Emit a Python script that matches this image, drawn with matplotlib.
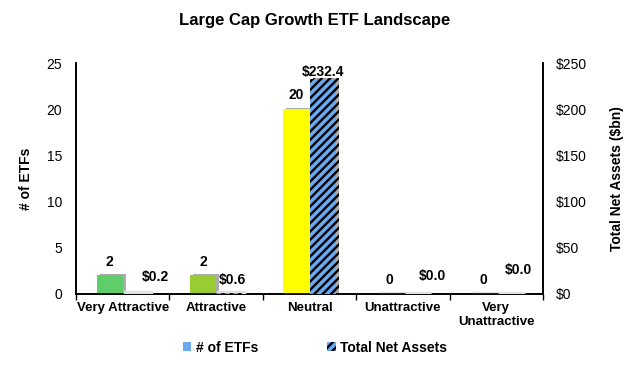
import numpy as np
import matplotlib
matplotlib.use("Agg")
import matplotlib.pyplot as plt
import matplotlib.patheffects as pe
from matplotlib.patches import Patch

plt.rcParams["font.family"] = ["Liberation Sans", "DejaVu Sans"]
plt.rcParams["hatch.linewidth"] = 1.7

categories = ["Very Attractive", "Attractive", "Neutral", "Unattractive", "Very\nUnattractive"]
num_etfs = [2, 2, 20, 0, 0]
total_assets = [0.2, 0.6, 232.4, 0.0, 0.0]
etf_labels = ["2", "2", "20", "0", "0"]
asset_labels = ["$0.2", "$0.6", "$232.4", "$0.0", "$0.0"]

bar_colors = ["#5fcd6a", "#99cc33", "#ffff00", "#ff9900", "#ff3333"]
hatch_face = "#6aa8f0"
# excel-ish nudges for the asset labels (points)
asset_dx = [14, 2, 0, 12, 6.5]
asset_dy = [12, 10, 5, 13, 17]

fig = plt.figure(figsize=(6.3, 3.67), dpi=100)
ax = fig.add_axes([0.1206, 0.199, 0.7414, 0.629])
ax2 = ax.twinx()

x = np.arange(len(categories))
w = 0.28
shadow = [pe.SimplePatchShadow(offset=(2.2, 0.8), shadow_rgbFace="#888888", alpha=0.7), pe.Normal()]
flat = [pe.Stroke(linewidth=2.5, foreground="#e2e2e2", offset=(1.5, 1)), pe.Normal()]

bars1 = ax.bar(x - w / 2, num_etfs, w, color=bar_colors, linewidth=0, zorder=3)
bars2 = ax2.bar(x + w / 2, total_assets, w, color=hatch_face, edgecolor="black",
                linewidth=0, hatch="////", zorder=3)

for b, v in zip(list(bars1) + list(bars2), num_etfs + total_assets):
    if b.get_height() > 0 and (b in bars1 or v > 5):
        b.set_path_effects(shadow)
    else:
        b.set_path_effects(flat)

for xi, v, s in zip(x, num_etfs, etf_labels):
    ax.annotate(s, (xi - w / 2, v), xytext=(0, 5), textcoords="offset points",
                ha="center", va="bottom", fontsize=10, fontweight="bold")
for xi, v, s, dx, dy in zip(x, total_assets, asset_labels, asset_dx, asset_dy):
    ax2.annotate(s, (xi + w / 2, v), xytext=(dx, dy), textcoords="offset points",
                 ha="center", va="center", fontsize=10, fontweight="bold")

ax.set_xlim(-0.5, 4.5)
ax.set_ylim(0, 25)
ax2.set_ylim(0, 250)
ax.set_yticks(range(0, 26, 5))
ax2.set_yticks(range(0, 251, 50))
ax2.set_yticklabels([f"${v}" for v in range(0, 251, 50)])

ax.set_xticks(x)
ax.set_xticklabels(categories, fontsize=9.5, fontweight="bold")
ax.set_xticks(np.arange(-0.5, 5, 1), minor=True)
ax.tick_params(axis="x", which="major", length=0, pad=6)
ax.tick_params(axis="x", which="minor", length=4, width=1, direction="out")
ax.tick_params(axis="y", length=0, pad=10, labelsize=10)
ax2.tick_params(axis="y", length=0, pad=9, labelsize=10)

for a in (ax, ax2):
    a.spines["top"].set_visible(False)
    for s in ("left", "right", "bottom"):
        a.spines[s].set_linewidth(1.2)

ax.set_ylabel("# of ETFs", fontsize=10, fontweight="bold", labelpad=10)
ax2.set_ylabel("Total Net Assets ($bn)", fontsize=10, fontweight="bold", labelpad=17)
fig.suptitle("Large Cap Growth ETF Landscape", fontsize=12, fontweight="bold", y=0.965)

handles = [Patch(facecolor=hatch_face, linewidth=0),
           Patch(facecolor=hatch_face, edgecolor="black", linewidth=0, hatch="////")]
fig.legend(handles, ["# of ETFs", "Total Net Assets"], loc="lower center",
           bbox_to_anchor=(0.5, 0.0), ncol=2, frameon=False, handlelength=0.6,
           handleheight=0.6, handletextpad=0.3, columnspacing=5,
           prop={"weight": "bold", "size": 10})

fig.savefig("out.png", dpi=100)
